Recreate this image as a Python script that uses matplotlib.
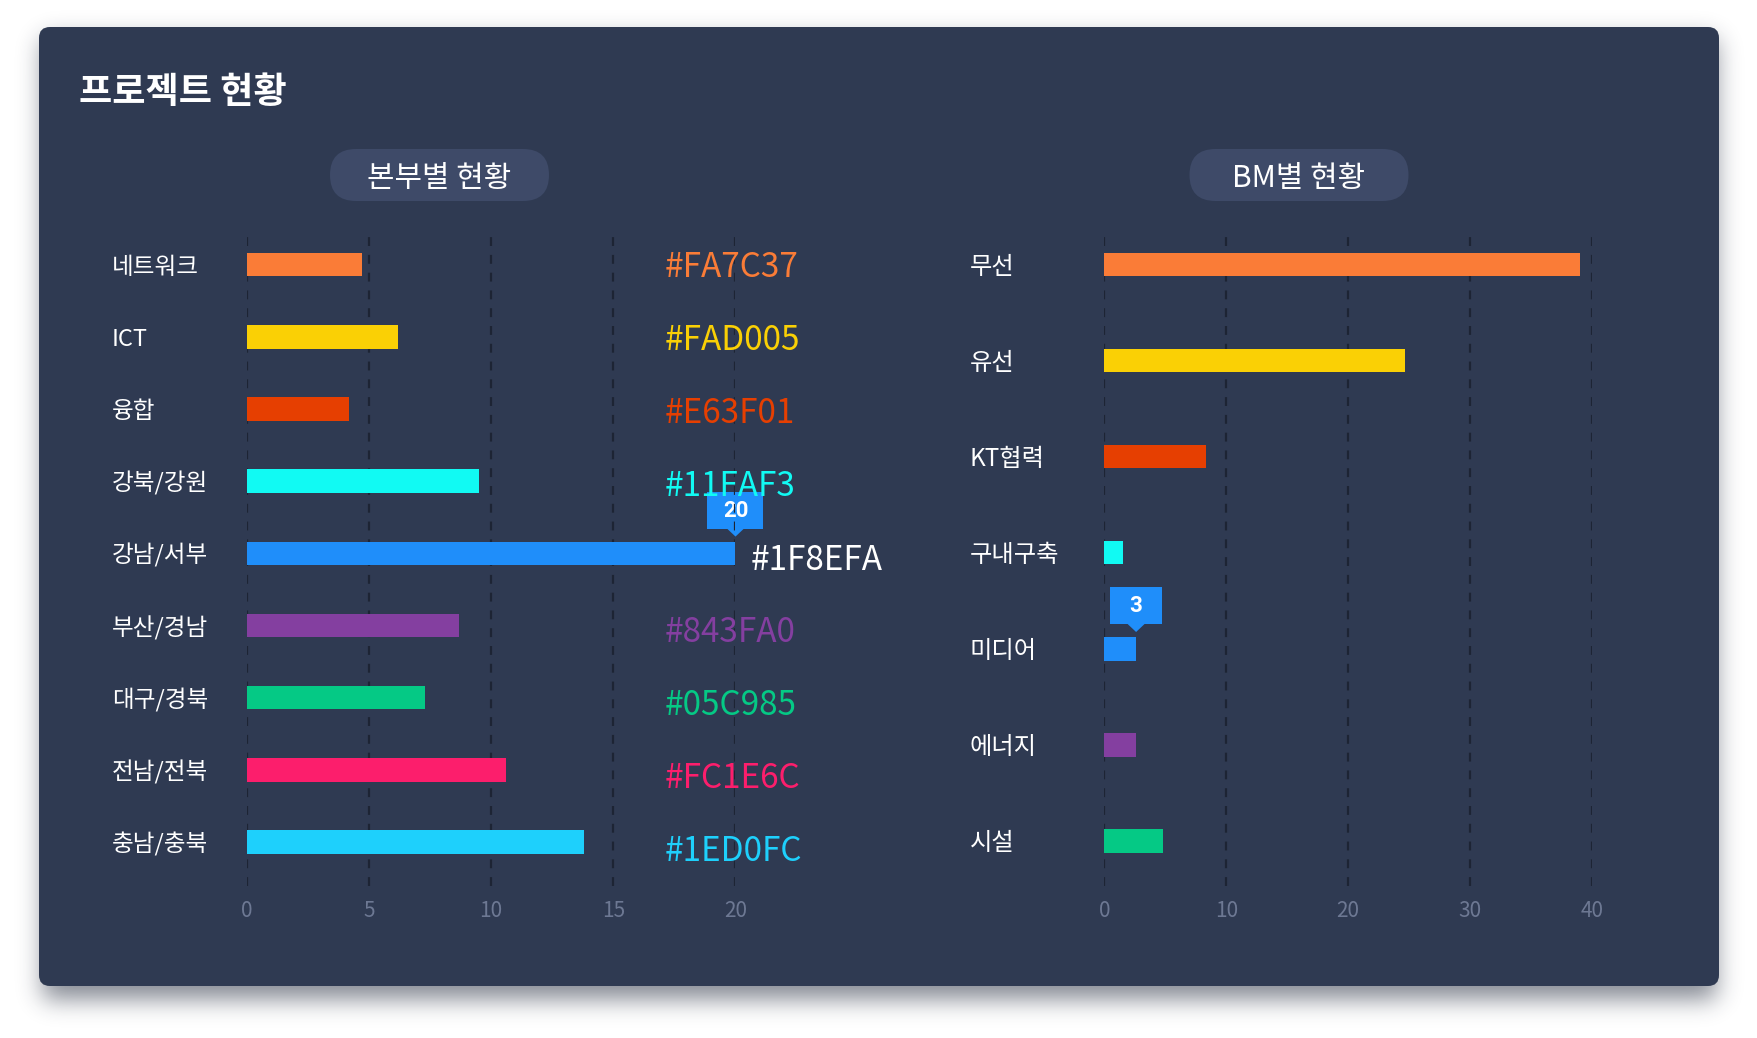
import numpy as np
import matplotlib
matplotlib.use("Agg")
import matplotlib.pyplot as plt
from matplotlib.patches import FancyBboxPatch, Rectangle, Polygon
from matplotlib.transforms import blended_transform_factory

plt.rcParams['font.family'] = ['Noto Sans CJK KR', 'DejaVu Sans']

# ---------------- data ----------------
title = "프로젝트 현황"
left_title = "본부별 현황"
right_title = "BM별 현황"

left_categories = ["네트워크", "ICT", "융합", "강북/강원", "강남/서부",
                   "부산/경남", "대구/경북", "전남/전북", "충남/충북"]
left_values = [4.7, 6.2, 4.2, 9.5, 20, 8.7, 7.3, 10.6, 13.8]
left_colors = ["#FA7C37", "#FAD005", "#E63F01", "#11FAF3", "#1F8EFA",
               "#843FA0", "#05C985", "#FC1E6C", "#1ED0FC"]
left_ticks = [0, 5, 10, 15, 20]
left_highlight = 4

right_categories = ["무선", "유선", "KT협력", "구내구축", "미디어", "에너지", "시설"]
right_values = [39, 24.7, 8.3, 1.5, 2.6, 2.6, 4.8]
right_colors = ["#FA7C37", "#FAD005", "#E63F01", "#11FAF3", "#1F8EFA",
                "#843FA0", "#05C985"]
right_ticks = [0, 10, 20, 30, 40]
right_highlight = 4

# ---------------- style ----------------
W, H = 1758, 1038
DPI = 100
CARD = "#2f3a52"
PILL = "#3e4a68"
GRID = "#1d2434"
TICK = "#6d7893"
TIP = "#1F8EFA"

fig = plt.figure(figsize=(W / DPI, H / DPI), dpi=DPI)
fig.patch.set_facecolor("white")

bg = fig.add_axes([0, 0, 1, 1])
bg.set_xlim(0, W)
bg.set_ylim(H, 0)
bg.axis("off")

# shadow (blurred mask)
cx0, cy0, cx1, cy1 = 39, 27, 1719, 986
yy, xx = np.mgrid[0:H, 0:W]
mask = ((xx >= cx0 + 4) & (xx <= cx1 - 4) & (yy >= cy0 + 12) & (yy <= cy1 + 12)).astype(float)
def blur(a, sigma, axis):
    r = int(sigma * 3)
    k = np.exp(-0.5 * (np.arange(-r, r + 1) / sigma) ** 2)
    k /= k.sum()
    return np.apply_along_axis(lambda v: np.convolve(v, k, mode="same"), axis, a)
sm = blur(blur(mask, 12, 0), 12, 1)
shadow = np.zeros((H, W, 4))
shadow[..., 0] = 0x20 / 255
shadow[..., 1] = 0x28 / 255
shadow[..., 2] = 0x3a / 255
shadow[..., 3] = sm * 0.55
bg.imshow(shadow, extent=(0, W, H, 0), interpolation="bilinear", zorder=0)

card = FancyBboxPatch((cx0, cy0), cx1 - cx0, cy1 - cy0,
                      boxstyle="round,pad=0,rounding_size=11",
                      fc=CARD, ec="none", zorder=1)
bg.add_patch(card)

bg.text(79, 92, title, color="white", fontsize=26, fontweight="bold",
        ha="left", va="center", zorder=3)

def pill(cx, cy, w, h, text):
    p = FancyBboxPatch((cx - w / 2, cy - h / 2), w, h,
                       boxstyle=f"round,pad=0,rounding_size={h/2}",
                       fc=PILL, ec="none", zorder=2)
    bg.add_patch(p)
    bg.text(cx, cy + 3, text, color="white", fontsize=21.5, ha="center",
            va="center", zorder=3)

pill(439.5, 175, 219, 52, left_title)
pill(1299, 175, 219, 52, right_title)

def px_axes(x0, x1, y0, y1):
    return fig.add_axes([x0 / W, 1 - y1 / H, (x1 - x0) / W, (y1 - y0) / H])

def style_axes(ax, ticks, ylim):
    ax.set_facecolor("none")
    for s in ax.spines.values():
        s.set_visible(False)
    ax.set_xticks(ticks)
    ax.set_xticklabels([str(t) for t in ticks])
    ax.set_xlim(ticks[0], ticks[-1])
    ax.set_ylim(*ylim)
    ax.set_yticks([])
    ax.tick_params(axis="x", length=0, pad=10, labelsize=15, labelcolor=TICK)
    for lab in ax.get_xticklabels():
        lab.set_fontweight("light")
    ax.grid(axis="x", color=GRID, linestyle=(0, (4, 4)), linewidth=1.6)
    ax.set_axisbelow(True)

def tooltip(ax, value, idx, bh, text, box_w):
    disp = ax.transData.transform((value, idx - bh / 2))
    px, py = bg.transData.inverted().transform(disp)
    tip_y = py - 5
    tri_h = 8
    box_h = 37
    box_bottom = tip_y - tri_h
    bg.add_patch(Rectangle((px - box_w / 2, box_bottom - box_h), box_w, box_h,
                           fc=TIP, ec="none", zorder=5))
    bg.add_patch(Polygon([(px - 9, box_bottom - 0.5), (px + 9, box_bottom - 0.5),
                          (px, tip_y)], closed=True, fc=TIP, ec="none", zorder=5))
    bg.text(px, box_bottom - box_h / 2 + 1, text, color="white", fontsize=16,
            fontweight="bold", ha="center", va="center", zorder=6,
            family=["Roboto", "DejaVu Sans"])

LABEL_DY = 2.5  # pixels downward for category text

# ---------------- left chart ----------------
axL = px_axes(246.7, 735.5, 230, 886)
nL = len(left_categories)
ypos_L = np.arange(nL)
style_axes(axL, left_ticks, (nL - 1 + 0.61, -0.48))
bhL = 0.325
axL.barh(ypos_L, left_values, height=bhL, color=left_colors, zorder=3)

rowL = 72.2
trL = blended_transform_factory(bg.transData, axL.transData)
for i, (cat, col, v) in enumerate(zip(left_categories, left_colors, left_values)):
    axL.text(112, i + LABEL_DY / rowL, cat, transform=trL, color="white",
             fontsize=17, ha="left", va="center")
    if i == left_highlight:
        axL.annotate(col, xy=(v, i + 7 / rowL), xytext=(15, 0),
                     textcoords="offset pixels", color="white", fontsize=24,
                     ha="left", va="center", zorder=7)
    else:
        axL.text(665, i + (3 + 0.8 * i) / rowL, col, transform=trL, color=col,
                 fontsize=24, ha="left", va="center", zorder=7)

tooltip(axL, left_values[left_highlight], left_highlight, bhL,
        f"{left_values[left_highlight]:g}", 56)

# ---------------- right chart ----------------
axR = px_axes(1104.4, 1592, 230, 886)
nR = len(right_categories)
ypos_R = np.arange(nR)
style_axes(axR, right_ticks, (nR - 1 + 0.47, -0.36))
bhR = 0.245
axR.barh(ypos_R, right_values, height=bhR, color=right_colors, zorder=3)

rowR = 96.1
trR = blended_transform_factory(bg.transData, axR.transData)
for i, cat in enumerate(right_categories):
    axR.text(970, i + LABEL_DY / rowR, cat, transform=trR, color="white",
             fontsize=17.5, ha="left", va="center")

tooltip(axR, right_values[right_highlight], right_highlight, bhR,
        f"{round(right_values[right_highlight])}", 52)

fig.savefig("out.png", dpi=DPI, facecolor="white")
